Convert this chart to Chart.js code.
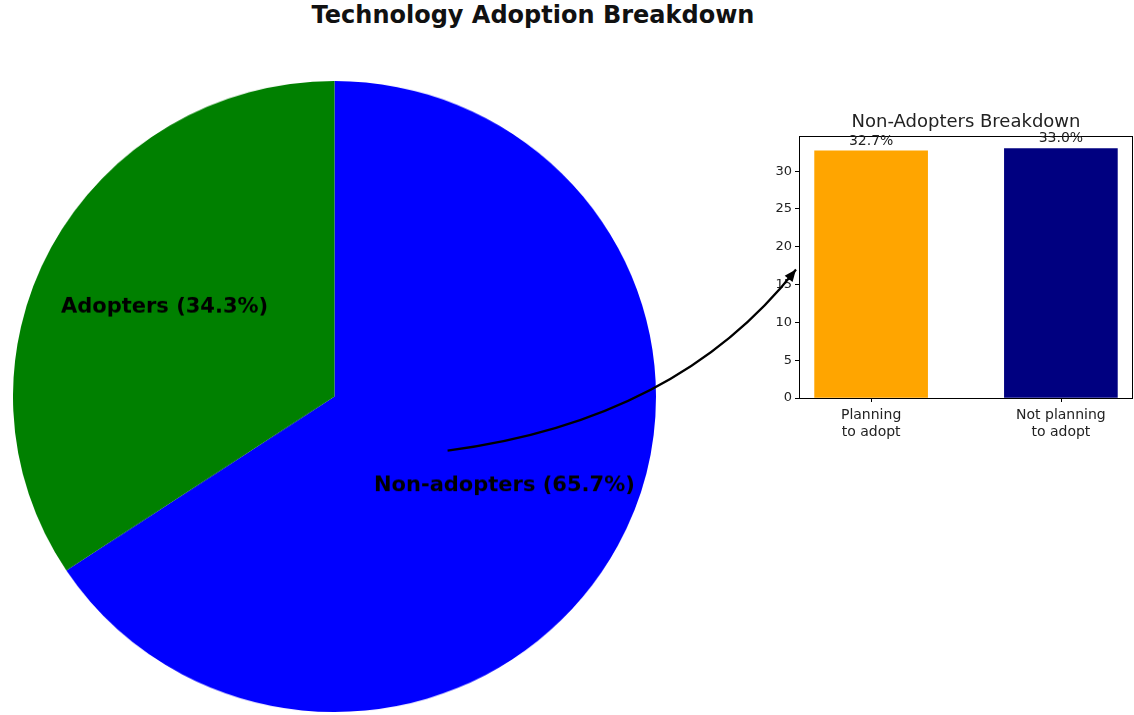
<!DOCTYPE html>
<html>
<head>
<meta charset="utf-8">
<script src="https://cdn.jsdelivr.net/npm/chart.js@4.4.1/dist/chart.umd.min.js"></script>
<style>
    html, body { margin: 0; padding: 0; background: #ffffff; overflow: hidden; }
    #pagina { position: relative; width: 1134px; height: 715px; font-family: "DejaVu Sans", sans-serif; }
    #titulo { position: absolute; left: 0; top: 1px; width: 1066px; text-align: center; font-weight: bold; font-size: 24px; color: #111; }
    #cajaPie { position: absolute; left: 12.5px; top: 81px; width: 643px; height: 643px; transform: scaleY(0.9813); transform-origin: 0 0; }
    #cajaBarras { position: absolute; left: 760px; top: 105px; width: 374px; height: 345px; }
    #capaFlecha { position: absolute; left: 0; top: 0; pointer-events: none; }
</style>
</head>
<body>
<div id="pagina">
    <div id="titulo">Technology Adoption Breakdown</div>
    <div id="cajaPie"><canvas id="graficaPie"></canvas></div>
    <div id="cajaBarras"><canvas id="graficaBarras"></canvas></div>
    <canvas id="capaFlecha" width="1134" height="715"></canvas>
</div>
<script>
// datos del pie (orden horario desde arriba)
const etiquetasPie = ["Non-adopters", "Adopters"];
const valoresPie = [65.7, 34.3];
const coloresPie = ["#0000ff", "#008000"];

// datos del desglose
const categoriasBarras = [["Planning", "to adopt"], ["Not planning", "to adopt"]];
const valoresBarras = [32.7, 33.0];
const coloresBarras = ["#ffa500", "#000080"];
const ticksY = [0, 5, 10, 15, 20, 25, 30];

Chart.defaults.font.family = "'DejaVu Sans', sans-serif";
Chart.defaults.color = "#222";

const etiquetasInternas = {
    id: "etiquetasInternas",
    afterDatasetsDraw(chart) {
        const ctx = chart.ctx;
        const arcos = chart.getDatasetMeta(0).data;
        ctx.save();
        ctx.font = "bold 21px 'DejaVu Sans', sans-serif";
        ctx.fillStyle = "#000";
        ctx.textAlign = "center";
        ctx.textBaseline = "middle";
        arcos.forEach((arco, i) => {
            const medio = (arco.startAngle + arco.endAngle) / 2;
            const r = arco.outerRadius * 0.6;
            const x = arco.x + Math.cos(medio) * r;
            const y = arco.y + Math.sin(medio) * r;
            ctx.fillText(`${etiquetasPie[i]} (${valoresPie[i].toFixed(1)}%)`, x, y);
        });
        ctx.restore();
    }
};

const graficaPie = new Chart(document.getElementById("graficaPie"), {
    type: "pie",
    data: {
        labels: etiquetasPie,
        datasets: [{
            data: valoresPie,
            backgroundColor: coloresPie,
            borderWidth: 0
        }]
    },
    options: {
        responsive: true,
        maintainAspectRatio: false,
        animation: false,
        layout: { padding: 0 },
        plugins: {
            legend: { display: false },
            tooltip: { enabled: false }
        }
    },
    plugins: [etiquetasInternas]
});

const marcoYTextos = {
    id: "marcoYTextos",
    afterDatasetsDraw(chart) {
        const ctx = chart.ctx;
        const area = chart.chartArea;
        const x = chart.scales.x;
        const y = chart.scales.y;
        ctx.save();
        ctx.strokeStyle = "#000";
        ctx.lineWidth = 1;
        ctx.strokeRect(area.left + 0.5, area.top + 0.5, area.right - area.left - 1, area.bottom - area.top);

        // marcas del eje x
        ctx.beginPath();
        categoriasBarras.forEach((_, i) => {
            const px = Math.round(x.getPixelForValue(i)) + 0.5;
            ctx.moveTo(px, area.bottom);
            ctx.lineTo(px, area.bottom + 4);
        });
        ctx.stroke();

        ctx.fillStyle = "#222";
        ctx.font = "14px 'DejaVu Sans', sans-serif";
        ctx.textAlign = "center";
        ctx.textBaseline = "alphabetic";
        valoresBarras.forEach((v, i) => {
            ctx.fillText(`${v.toFixed(1)}%`, x.getPixelForValue(i), y.getPixelForValue(v) - 6);
        });

        ctx.font = "18px 'DejaVu Sans', sans-serif";
        ctx.textBaseline = "middle";
        ctx.fillText("Non-Adopters Breakdown", (area.left + area.right) / 2, area.top - 14);
        ctx.restore();
    }
};

const graficaBarras = new Chart(document.getElementById("graficaBarras"), {
    type: "bar",
    data: {
        datasets: [{
            data: valoresBarras.map((v, i) => ({ x: i, y: v })),
            backgroundColor: coloresBarras,
            borderWidth: 0,
            barThickness: 113
        }]
    },
    options: {
        responsive: true,
        maintainAspectRatio: false,
        animation: false,
        layout: { padding: { top: 31, right: 1, left: 0, bottom: 0 } },
        plugins: {
            legend: { display: false },
            tooltip: { enabled: false }
        },
        scales: {
            x: {
                type: "linear",
                offset: false,
                min: -0.38,
                max: 1.38,
                afterBuildTicks: (escala) => {
                    escala.ticks = categoriasBarras.map((_, i) => ({ value: i }));
                },
                afterFit: (escala) => { escala.height = 52; },
                ticks: {
                    autoSkip: false,
                    maxRotation: 0,
                    color: "#222",
                    font: { size: 14 },
                    padding: 1,
                    callback: (valor) => categoriasBarras[valor]
                },
                grid: { display: false },
                border: { display: false }
            },
            y: {
                min: 0,
                max: 34.65,
                afterBuildTicks: (escala) => {
                    escala.ticks = ticksY.map(v => ({ value: v }));
                },
                afterFit: (escala) => { escala.width = 39; },
                ticks: {
                    color: "#222",
                    font: { size: 13 },
                    padding: 3
                },
                grid: { drawOnChartArea: false, drawTicks: true, tickLength: 4, color: "#000" },
                border: { display: false }
            }
        }
    },
    plugins: [marcoYTextos]
});

function dibujarFlecha() {
    const capa = document.getElementById("capaFlecha");
    const ctx = capa.getContext("2d");
    const pagina = document.getElementById("pagina").getBoundingClientRect();
    const lienzoPie = graficaPie.canvas;
    const cajaPie = lienzoPie.getBoundingClientRect();
    const cajaBar = graficaBarras.canvas.getBoundingClientRect();
    const escX = cajaPie.width / lienzoPie.offsetWidth;
    const escY = cajaPie.height / lienzoPie.offsetHeight;

    const arco = graficaPie.getDatasetMeta(0).data[0];
    const r = arco.outerRadius * escX;
    const x0 = cajaPie.left - pagina.left + arco.x * escX + r * 0.36;
    const y0 = cajaPie.top - pagina.top + arco.y * escY + r * 0.19;

    const x1 = cajaBar.left - pagina.left + graficaBarras.chartArea.left - 3;
    const y1 = cajaBar.top - pagina.top + graficaBarras.scales.y.getPixelForValue(17);

    const cx = x0 + (x1 - x0) * 0.66;
    const cy = y0 - 30;

    ctx.save();
    ctx.strokeStyle = "#000";
    ctx.fillStyle = "#000";
    ctx.lineWidth = 2.2;
    ctx.beginPath();
    ctx.moveTo(x0, y0);
    ctx.quadraticCurveTo(cx, cy, x1, y1);
    ctx.stroke();

    const ang = Math.atan2(y1 - cy, x1 - cx);
    const largo = 12, ancho = 5;
    ctx.beginPath();
    ctx.moveTo(x1, y1);
    ctx.lineTo(x1 - largo * Math.cos(ang) + ancho * Math.sin(ang), y1 - largo * Math.sin(ang) - ancho * Math.cos(ang));
    ctx.lineTo(x1 - largo * Math.cos(ang) - ancho * Math.sin(ang), y1 - largo * Math.sin(ang) + ancho * Math.cos(ang));
    ctx.closePath();
    ctx.fill();
    ctx.restore();
}

dibujarFlecha();
</script>
</body>
</html>
